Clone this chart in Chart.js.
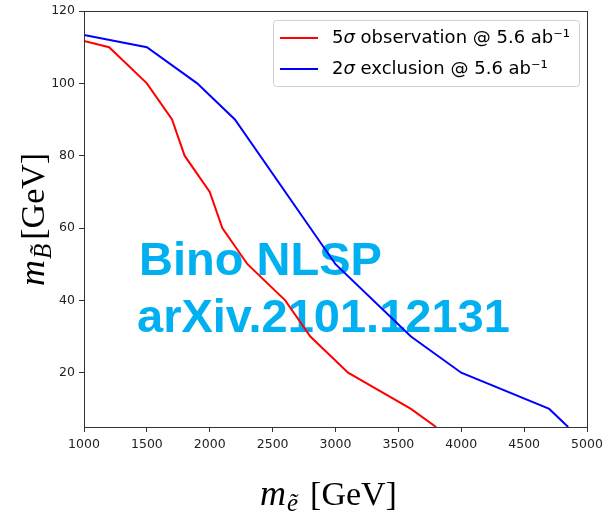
<!DOCTYPE html>
<html>
<head>
<meta charset="utf-8">
<script src="https://cdn.jsdelivr.net/npm/chart.js@4.4.1/dist/chart.umd.min.js"></script>
<style>
  body { margin: 0; background: #fff; }
  #wrap { width: 605px; height: 519px; }
</style>
</head>
<body>
<div id="wrap"><canvas id="myChart" width="605" height="519"></canvas></div>
<script>
// tick values
const xTicks = [1000, 1500, 2000, 2500, 3000, 3500, 4000, 4500, 5000];
const yTicks = [20, 40, 60, 80, 100, 120];

// 5 sigma observation curve (slepton mass, bino mass)
const obsMass  = [1000, 1200, 1500, 1700, 1800, 2000, 2100, 2300, 2600, 2800, 3100, 3600, 3800];
const obsLimit = [111.7, 110, 100, 90, 80, 70, 60, 50, 40, 30, 20, 10, 5];

// 2 sigma exclusion curve
const excMass  = [1000, 1500, 1900, 2200, 3000, 3600, 4000, 4700, 4850];
const excLimit = [113.4, 110, 100, 90, 50, 30, 20, 10, 5];

const seriesLabels = ["5\u03C3 observation @ 5.6 ab\u207B\u00B9", "2\u03C3 exclusion @ 5.6 ab\u207B\u00B9"];
const watermark = ["Bino NLSP", "arXiv.2101.12131"];

const axisColor = "#333";
const tickColor = "#222";

// pair up x and y arrays for a scatter-style line
function toPoints(xs, ys){
    return xs.map((x, i) => ({x: x, y: ys[i]}));
}

// draw text made of pieces (italic symbol, subscript, plain part)
function drawPieces(ctx, pieces, family){
    let x = 0;
    pieces.forEach(p => {
        ctx.font = (p.italic ? "italic " : "") + p.size + "px " + family;
        ctx.fillText(p.text, x, p.dy || 0);
        x += ctx.measureText(p.text).width + (p.gap || 0);
    });
}

const serif = "'Liberation Serif', 'DejaVu Serif', serif";
const sans = "'DejaVu Sans', sans-serif";

const extras = {
    id: "extras",
    beforeDatasetsDraw(chart){
        const ctx = chart.ctx;
        ctx.save();
        ctx.fillStyle = "#00B0F0";
        ctx.font = "bold 47px 'Liberation Sans', Arial, sans-serif";
        ctx.textBaseline = "alphabetic";
        ctx.fillText(watermark[0], 139, 275);
        ctx.fillText(watermark[1], 137, 332);
        ctx.restore();
    },
    afterDraw(chart){
        const ctx = chart.ctx;
        const a = chart.chartArea;
        ctx.save();

        // frame round the plot
        ctx.strokeStyle = axisColor;
        ctx.lineWidth = 1;
        ctx.strokeRect(Math.round(a.left) + 0.5, Math.round(a.top) + 0.5,
                       Math.round(a.right - a.left), Math.round(a.bottom - a.top));

        // axis titles
        ctx.fillStyle = "#000";
        ctx.textBaseline = "alphabetic";
        ctx.textAlign = "left";
        ctx.save();
        ctx.translate(260, 505);
        drawPieces(ctx, [
            {text: "m", italic: true, size: 36, gap: 1},
            {text: "\u1EBD", italic: true, size: 25, dy: 6, gap: 12},
            {text: "[GeV]", size: 34}
        ], serif);
        ctx.restore();

        ctx.save();
        ctx.translate(44, 286);
        ctx.rotate(-Math.PI / 2);
        drawPieces(ctx, [
            {text: "m", italic: true, size: 36, gap: 1},
            {text: "B\u0303", italic: true, size: 25, dy: 7, gap: 4},
            {text: "[GeV]", size: 34}
        ], serif);
        ctx.restore();

        // legend box in the upper right corner
        const lx = 273, ly = 20, lw = 306, lh = 66;
        ctx.fillStyle = "rgba(255,255,255,0.85)";
        ctx.strokeStyle = "#d0d0d0";
        ctx.lineWidth = 1;
        ctx.beginPath();
        ctx.roundRect(lx + 0.5, ly + 0.5, lw, lh, 3);
        ctx.fill();
        ctx.stroke();

        ctx.textBaseline = "middle";
        chart.data.datasets.forEach((ds, i) => {
            const rowY = 38 + i * 31;
            ctx.strokeStyle = ds.borderColor;
            ctx.lineWidth = 2;
            ctx.beginPath();
            ctx.moveTo(280, rowY);
            ctx.lineTo(318, rowY);
            ctx.stroke();
            ctx.fillStyle = "#000";
            // sigma is set in italic, the rest upright
            const parts = ds.label.split("\u03C3");
            ctx.save();
            ctx.translate(332, rowY);
            drawPieces(ctx, [
                {text: parts[0], size: 18},
                {text: "\u03C3", italic: true, size: 18},
                {text: parts[1], size: 18}
            ], sans);
            ctx.restore();
        });
        ctx.restore();
    }
};

function start(){
    const ctx = document.getElementById("myChart").getContext("2d");

    const tickFont = { family: sans, size: 12.5 };

    new Chart(ctx, {
        type: "line",
        data: {
            datasets: [{
                label: seriesLabels[0],
                data: toPoints(obsMass, obsLimit),
                borderColor: "#ff0000",
                borderWidth: 2,
                pointRadius: 0,
                tension: 0,
                fill: false
            }, {
                label: seriesLabels[1],
                data: toPoints(excMass, excLimit),
                borderColor: "#0000ff",
                borderWidth: 2,
                pointRadius: 0,
                tension: 0,
                fill: false
            }]
        },
        options: {
            responsive: false,
            animation: false,
            devicePixelRatio: 1,
            layout: { padding: { left: 0, top: 11, right: 18, bottom: 0 } },
            plugins: {
                legend: { display: false },
                tooltip: { enabled: false }
            },
            scales: {
                x: {
                    type: "linear",
                    min: 1000,
                    max: 5000,
                    afterBuildTicks: (scale) => { scale.ticks = xTicks.map(v => ({value: v})); },
                    afterFit: (scale) => {
                        scale.height = 92;
                        scale.paddingLeft = 0;
                        scale.paddingRight = 0;
                    },
                    grid: { drawOnChartArea: false, drawTicks: true, tickLength: 5, color: axisColor },
                    border: { color: axisColor },
                    ticks: { font: tickFont, color: tickColor, padding: 5, maxRotation: 0,
                             callback: (v) => String(v) }
                },
                y: {
                    type: "linear",
                    min: 5,
                    max: 120,
                    afterBuildTicks: (scale) => { scale.ticks = yTicks.map(v => ({value: v})); },
                    afterFit: (scale) => {
                        scale.width = 84;
                        scale.paddingTop = 0;
                        scale.paddingBottom = 0;
                    },
                    grid: { drawOnChartArea: false, drawTicks: true, tickLength: 5, color: axisColor },
                    border: { color: axisColor },
                    ticks: { font: tickFont, color: tickColor, padding: 4,
                             callback: (v) => String(v) }
                }
            }
        },
        plugins: [extras]
    });
}

window.addEventListener("load", start, false);
</script>
</body>
</html>
